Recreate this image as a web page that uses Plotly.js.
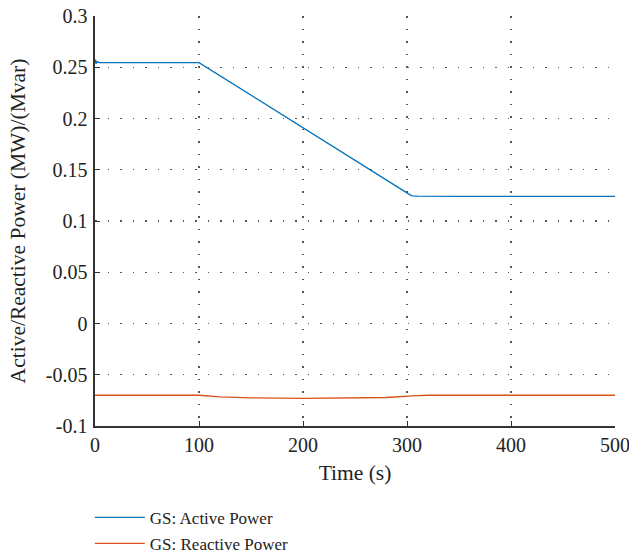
<!DOCTYPE html>
<html><head><meta charset="utf-8">
<script src="https://cdn.plot.ly/plotly-3.0.1.min.js"></script>
<style>body{margin:0;background:#fff}#c{width:629px;height:559px}</style>
</head><body><div id="c"></div>
<script>
const activeTime = [0, 0.5, 1, 2, 4, 100, 303, 305, 310, 350, 500];
const activeValues = [0.254, 0.2575, 0.2535, 0.2555, 0.2545, 0.2545, 0.1255, 0.1245, 0.1243, 0.124, 0.124];
const reactiveTime = [0, 100, 120, 150, 200, 250, 280, 305, 320, 500];
const reactiveValues = [-0.0700, -0.0700, -0.0715, -0.0725, -0.0730, -0.0729, -0.0722, -0.0707, -0.0700, -0.0700];
const xTicks = [0, 100, 200, 300, 400, 500];
const yTicks = [-0.1, -0.05, 0, 0.05, 0.1, 0.15, 0.2, 0.25, 0.3];
const yTickText = ['-0.1', '-0.05', '0', '0.05', '0.1', '0.15', '0.2', '0.25', '0.3'];
const seriesNames = ['GS: Active Power', 'GS: Reactive Power'];

const fam = 'Liberation Serif, Times New Roman, serif';
const tickFont = {family: fam, size: 20, color: '#222'};
const titleFont = {family: fam, size: 21.5, color: '#222'};
const legendFont = {family: fam, size: 17, color: '#222'};
const data = [
  {x: activeTime, y: activeValues, name: seriesNames[0], legendgroup: 'a', mode: 'lines', line: {color: '#0072BD', width: 1.3}},
  {x: reactiveTime, y: reactiveValues, name: seriesNames[1], legendgroup: 'b', mode: 'lines', line: {color: '#D95319', width: 1.3}}
];
const axisCommon = {showline: true, linecolor: '#333', linewidth: 1.6, ticks: 'inside', ticklen: 5, tickcolor: '#333',
  showgrid: true, gridcolor: '#555', griddash: '1.5px,11px', gridwidth: 1.2, zeroline: false, mirror: false, tickfont: tickFont,
  ticklabeloverflow: 'allow'};
const layout = {
  width: 629, height: 559,
  margin: {l: 95, r: 14, t: 16, b: 133, autoexpand: false},
  paper_bgcolor: '#fff', plot_bgcolor: '#fff',
  font: tickFont,
  xaxis: Object.assign({}, axisCommon, {range: [0, 500], tickvals: xTicks, title: {text: 'Time (s)', font: titleFont, standoff: 10}}),
  yaxis: Object.assign({}, axisCommon, {range: [-0.1, 0.3], tickvals: yTicks, ticktext: yTickText, ticklabelstandoff: 2,
    title: {text: 'Active/Reactive Power (MW)/(Mvar)', font: titleFont, standoff: 14}}),
  showlegend: true,
  legend: {x: -0.01, xanchor: 'left', y: -0.18, yanchor: 'top', orientation: 'v',
    font: legendFont, itemwidth: 50, tracegroupgap: 1, traceorder: 'grouped', bgcolor: 'rgba(0,0,0,0)'}
};
Plotly.newPlot('c', data, layout, {displayModeBar: false, staticPlot: true});
</script></body></html>
